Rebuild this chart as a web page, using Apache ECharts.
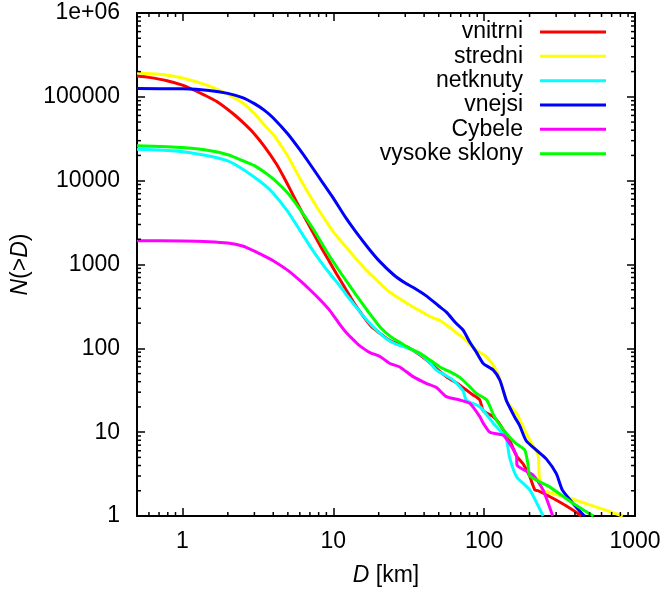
<!DOCTYPE html>
<html>
<head>
<meta charset="utf-8">
<script src="https://cdn.jsdelivr.net/npm/echarts@6/dist/echarts.min.js"></script>
<style>
  html, body { margin: 0; padding: 0; background: #ffffff; }
  #chart { width: 667px; height: 596px; }
</style>
</head>
<body>
<div id="chart"></div>
<script>
// Cumulative size distributions N(>D) of asteroid populations, D in km.
const seriesNames = ['vnitrni', 'stredni', 'netknuty', 'vnejsi', 'Cybele', 'vysoke sklony'];
const seriesColors = ['#ff0000', '#ffff00', '#00ffff', '#0000ff', '#ff00ff', '#00ff00'];

const vnitrni = [
  [0.5, 177000], [0.6, 170600], [0.79, 155600], [1.0, 138000], [1.15, 124000], [1.4, 105000],
  [1.69, 87900], [2.18, 62400], [2.55, 48500], [2.95, 37300], [3.5, 25500], [4.22, 15600],
  [4.7, 11000], [5.16, 7980], [5.7, 5600], [6.33, 3930], [7.2, 2560], [8.17, 1690],
  [9.3, 1130], [10.5, 776], [12, 520], [13.6, 356], [16, 234], [18, 180], [20.4, 151],
  [23, 128], [26, 115], [30.6, 105], [36, 88], [41.6, 72.6], [48, 58], [56.2, 45.9],
  [65, 39], [76.2, 31.8], [84, 28], [93.6, 24.2], [98.6, 18], [115, 15.3], [125, 13],
  [134, 10.6], [140, 9.5], [150, 7.5], [164, 5.2], [181, 4.2], [200, 3.0], [217, 2.04],
  [228, 2.0], [300, 1.55], [387, 1.18], [440, 1]
];

const stredni = [
  [0.5, 193000], [0.7, 186000], [1.0, 168000], [1.5, 135000], [2.0, 107000], [2.5, 85000],
  [3.0, 63000], [3.5, 46200], [4.0, 35500], [4.5, 26300], [5.0, 19500], [6.0, 10700],
  [7.0, 6600], [8.0, 4470], [9.0, 3240], [10, 2450], [11.1, 1950], [12, 1660], [14, 1200],
  [16, 910], [18, 740], [20, 617], [22.6, 500], [26, 417], [30, 355], [34, 309], [40, 263],
  [45, 234], [50.9, 215], [56.2, 190], [65, 155], [76.2, 124], [88.8, 95], [104, 79],
  [120, 55], [130, 38], [140, 24], [150, 20.1], [164, 16.8], [190, 9.7], [206, 7.4],
  [228, 5.3], [232, 2.94], [246, 2.04], [370, 1.63], [830, 1.0]
];

const netknuty = [
  [0.5, 23700], [0.8, 22900], [1.0, 22100], [1.5, 19700], [2.0, 17200], [2.5, 13800],
  [3.0, 11000], [3.5, 8900], [4.0, 7080], [5.0, 4270], [6.0, 2570], [7.0, 1660],
  [8.2, 1100], [9.5, 776], [11, 562], [12.3, 427], [14.5, 295], [16.6, 219], [19.5, 162],
  [22.6, 129], [26, 112], [30.6, 102], [35, 92], [39.5, 79.6], [44, 66], [48.3, 55],
  [55, 48], [62.2, 41.9], [72.6, 31], [76.2, 24], [93.6, 20.1], [115, 12.8], [140, 8.4],
  [147, 5.1], [164, 2.94], [201, 2.04], [246, 1.0]
];

const vnejsi = [
  [0.5, 126000], [1.0, 124500], [1.5, 119000], [2.0, 110000], [2.5, 98000], [3.0, 83000],
  [3.5, 69000], [4.0, 56000], [5.0, 36000], [6.0, 23400], [7.0, 15800], [8.5, 9500],
  [10, 6200], [12, 3700], [14, 2500], [17, 1585], [20, 1120], [25, 760], [30, 600],
  [35, 515], [41.6, 420], [50, 320], [56.2, 270], [65, 200], [72.6, 165], [80.4, 118],
  [88.8, 90], [98.6, 66], [115, 55], [127, 41.9], [140, 24.2], [147, 20.1], [160, 15],
  [172, 12], [190, 7.9], [222, 6.1], [258, 4.8], [301, 3.2], [330, 2.04], [387, 1.42],
  [455, 1.03], [465, 1]
];

const cybele = [
  [0.5, 1920], [1.0, 1905], [1.5, 1870], [2.0, 1800], [2.5, 1660], [3.0, 1445], [3.5, 1260],
  [4.0, 1110], [5.0, 850], [6.0, 645], [7.0, 500], [8.17, 380], [9.5, 282], [11.1, 190],
  [12.3, 151], [14, 120], [15, 107], [17.5, 89], [20.4, 80], [23.7, 66], [27.6, 60],
  [33.8, 46], [41.6, 38], [48.3, 34], [56.2, 26.5], [68.9, 24.2], [80.4, 22], [93.6, 15.3],
  [98.6, 12.8], [109, 10], [134, 9.2], [150, 7], [164, 5.2], [165, 4.06], [211, 3.08],
  [246, 2.04], [285, 1]
];

const vysokeSklony = [
  [0.5, 26100], [0.8, 25400], [1.0, 24800], [1.5, 22900], [2.0, 20400], [2.5, 17400],
  [3.0, 15100], [3.5, 12600], [4.0, 10500], [5.0, 7080], [6.0, 4570], [7.38, 2630],
  [9.0, 1450], [11.1, 813], [13, 540], [15, 375], [17, 275], [20.4, 180], [24, 138],
  [27.6, 118], [32, 100], [37.6, 87], [44, 72], [50.9, 60], [60, 52], [68.9, 45],
  [80, 35], [88.8, 29], [104, 24.2], [117, 15.3], [140, 9.7], [160, 7.5], [186, 6.1],
  [195, 4.2], [201, 3.0], [270, 2.24], [387, 1.42], [530, 1]
];

const seriesData = [vnitrni, stredni, netknuty, vnejsi, cybele, vysokeSklony];

// Axis ranges and tick labels
const xRange = [0.5, 1000];
const yRange = [1, 1e6];
const xTickValues = [1, 10, 100, 1000];
const xTickLabels = ['1', '10', '100', '1000'];
const yTickValues = [1, 10, 100, 1000, 10000, 100000, 1000000];
const yTickLabels = ['1', '10', '100', '1000', '10000', '100000', '1e+06'];

// Minor tick positions (2..9 within each decade)
function minorTicks(lo, hi) {
  const out = [];
  for (let e = Math.floor(Math.log10(lo)); e < Math.ceil(Math.log10(hi)); e++) {
    for (let m = 2; m <= 9; m++) {
      const v = m * Math.pow(10, e);
      if (v > lo * 1.0001 && v < hi * 0.9999) out.push(v);
    }
  }
  return out;
}
const xMinor = minorTicks(xRange[0], xRange[1]);
const yMinor = minorTicks(yRange[0], yRange[1]);

const FONT = '"Liberation Sans", Arial, Helvetica, sans-serif';
const FS = 23;

function labelFor(values, labels) {
  return function (v) {
    for (let i = 0; i < values.length; i++) {
      if (Math.abs(v - values[i]) / values[i] < 1e-6) return labels[i];
    }
    return '';
  };
}

const axisLineStyle = { color: '#000', width: 2 };
const tickStyle = { color: '#000', width: 1.5 };

function baseXAxis(pos, showLabels) {
  return {
    type: 'log', logBase: 10, min: xRange[0], max: xRange[1], position: pos,
    axisLine: { show: true, onZero: false, lineStyle: axisLineStyle },
    axisTick: { show: true, inside: true, length: 8, lineStyle: tickStyle },
    axisLabel: {
      show: showLabels, formatter: labelFor(xTickValues, xTickLabels),
      fontSize: FS, fontFamily: FONT, color: '#000', margin: 14,
      showMinLabel: true, showMaxLabel: true
    },
    splitLine: { show: false }, minorTick: { show: false }
  };
}
function baseYAxis(pos, showLabels) {
  return {
    type: 'log', logBase: 10, min: yRange[0], max: yRange[1], position: pos,
    axisLine: { show: true, onZero: false, lineStyle: axisLineStyle },
    axisTick: { show: true, inside: true, length: 8, lineStyle: tickStyle },
    axisLabel: {
      show: showLabels, formatter: labelFor(yTickValues, yTickLabels),
      fontSize: FS, fontFamily: FONT, color: '#000', margin: 17
    },
    splitLine: { show: false }, minorTick: { show: false }
  };
}

const xBottom = baseXAxis('bottom', true);
xBottom.name = '{i|D} [km]';
xBottom.nameLocation = 'middle';
xBottom.nameGap = 48;
xBottom.nameTextStyle = {
  fontSize: FS, fontFamily: FONT, color: '#000',
  rich: { i: { fontStyle: 'italic', fontSize: FS, fontFamily: FONT, color: '#000' } }
};
const yLeft = baseYAxis('left', true);
yLeft.name = '{i|N}(>{i|D})';
yLeft.nameLocation = 'middle';
yLeft.nameGap = 98;
yLeft.nameRotate = 90;
yLeft.nameTextStyle = {
  fontSize: FS, fontFamily: FONT, color: '#000',
  rich: { i: { fontStyle: 'italic', fontSize: FS, fontFamily: FONT, color: '#000' } }
};

function renderXMinor(params, api) {
  const v = api.value(0);
  const b = api.coord([v, yRange[0]]);
  const t = api.coord([v, yRange[1]]);
  return {
    type: 'group', children: [
      { type: 'line', shape: { x1: b[0], y1: b[1], x2: b[0], y2: b[1] - 4 }, style: { stroke: '#000', lineWidth: 1.5 } },
      { type: 'line', shape: { x1: t[0], y1: t[1], x2: t[0], y2: t[1] + 4 }, style: { stroke: '#000', lineWidth: 1.5 } }
    ]
  };
}
function renderYMinor(params, api) {
  const v = api.value(1);
  const l = api.coord([xRange[0], v]);
  const r = api.coord([xRange[1], v]);
  return {
    type: 'group', children: [
      { type: 'line', shape: { x1: l[0], y1: l[1], x2: l[0] + 4, y2: l[1] }, style: { stroke: '#000', lineWidth: 1.5 } },
      { type: 'line', shape: { x1: r[0], y1: r[1], x2: r[0] - 4, y2: r[1] }, style: { stroke: '#000', lineWidth: 1.5 } }
    ]
  };
}

const lineSeries = seriesNames.map(function (name, i) {
  return {
    name: name, type: 'line', data: seriesData[i], showSymbol: false, symbol: 'none',
    smooth: 0.2, animation: false,
    lineStyle: { color: seriesColors[i], width: 3 },
    itemStyle: { color: seriesColors[i] },
    emphasis: { disabled: true }
  };
});

const option = {
  animation: false,
  backgroundColor: '#ffffff',
  grid: { left: 137, right: 32, top: 13, bottom: 80, containLabel: false },
  xAxis: [xBottom, baseXAxis('top', false)],
  yAxis: [yLeft, baseYAxis('right', false)],
  legend: {
    data: seriesNames, orient: 'vertical', right: 61, top: 20, align: 'right',
    icon: 'rect', itemWidth: 66, itemHeight: 3, itemGap: 0.33, padding: 0,
    selectedMode: false,
    textStyle: { fontSize: FS, fontFamily: FONT, color: '#000', lineHeight: 24, padding: [0, 12, 0, 0] }
  },
  series: lineSeries.concat([
    {
      type: 'custom', name: 'xminor', renderItem: renderXMinor, clip: false, silent: true,
      data: xMinor.map(function (v) { return [v, 10]; }), z: 10
    },
    {
      type: 'custom', name: 'yminor', renderItem: renderYMinor, clip: false, silent: true,
      data: yMinor.map(function (v) { return [1, v]; }), z: 10
    }
  ])
};

const chart = echarts.init(document.getElementById('chart'), null, { renderer: 'canvas' });
chart.setOption(option);
</script>
</body>
</html>
